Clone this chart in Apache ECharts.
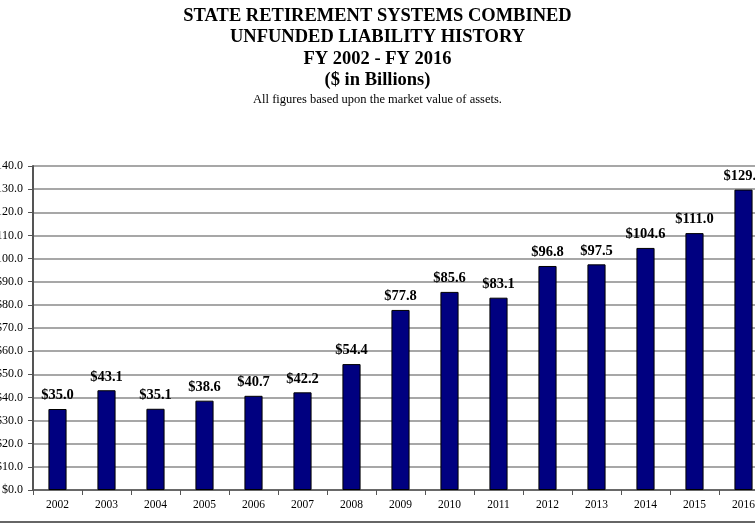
<!DOCTYPE html>
<html>
<head>
<meta charset="utf-8" />
<title>Unfunded Liability History</title>
<script src="https://cdn.jsdelivr.net/npm/echarts@6.0.0/dist/echarts.min.js"></script>
<style>
    html, body { margin: 0; padding: 0; background: #fff; }
    #chart { width: 755px; height: 528px; }
</style>
</head>
<body>
<div id="chart"></div>
<script type="text/javascript">
    var years = ['2002', '2003', '2004', '2005', '2006', '2007', '2008', '2009',
                 '2010', '2011', '2012', '2013', '2014', '2015', '2016'];
    var liability = [35.0, 43.1, 35.1, 38.6, 40.7, 42.2, 54.4, 77.8,
                     85.6, 83.1, 96.8, 97.5, 104.6, 111.0, 129.8];
    var titleLines = ['STATE RETIREMENT SYSTEMS COMBINED', 'UNFUNDED LIABILITY HISTORY',
                      'FY 2002 - FY 2016', '($ in Billions)'];
    var subtitle = 'All figures based upon the market value of assets.';

    var serif = '"Liberation Serif", "DejaVu Serif", serif';
    var chart = echarts.init(document.getElementById('chart'));

    chart.setOption({
        animation: false,
        title: {
            text: titleLines.join('\n'),
            subtext: subtitle,
            left: 'center',
            top: 0,
            itemGap: 2,
            textStyle: { fontFamily: serif, fontSize: 18.5, fontWeight: 'bold', color: '#000', lineHeight: 21.5 },
            subtextStyle: { fontFamily: serif, fontSize: 12.5, color: '#000' }
        },
        grid: { left: 33, top: 166, width: 735, bottom: 38, outerBoundsMode: 'none', containLabel: false },
        xAxis: {
            type: 'category',
            data: years,
            axisLine: { lineStyle: { color: '#555', width: 1.5 } },
            axisTick: { show: true, length: 5, lineStyle: { color: '#555' } },
            axisLabel: { fontFamily: serif, fontSize: 11.5, color: '#000', margin: 9 }
        },
        yAxis: {
            type: 'value',
            min: 0,
            max: 140,
            interval: 10,
            axisLine: { show: true, lineStyle: { color: '#555', width: 2 } },
            axisTick: { show: true, length: 5, lineStyle: { color: '#555' } },
            axisLabel: {
                fontFamily: serif, fontSize: 12, color: '#000', margin: 10,
                formatter: function (v) { return '$' + v.toFixed(1); }
            },
            splitLine: { lineStyle: { color: '#8a8a8a', width: 1.5 } }
        },
        series: [{
            type: 'bar',
            data: liability,
            barWidth: '37%',
            itemStyle: { color: '#000080', borderColor: '#000', borderWidth: 1 },
            label: {
                show: true,
                position: 'top',
                distance: 6,
                fontFamily: serif,
                fontSize: 14.5,
                fontWeight: 'bold',
                color: '#000',
                formatter: function (p) { return '$' + p.value.toFixed(1); }
            }
        }],
        graphic: [{
            type: 'line',
            shape: { x1: 0, y1: 522, x2: 755, y2: 522 },
            style: { stroke: '#333', lineWidth: 1.5 }
        }]
    });
</script>
</body>
</html>
